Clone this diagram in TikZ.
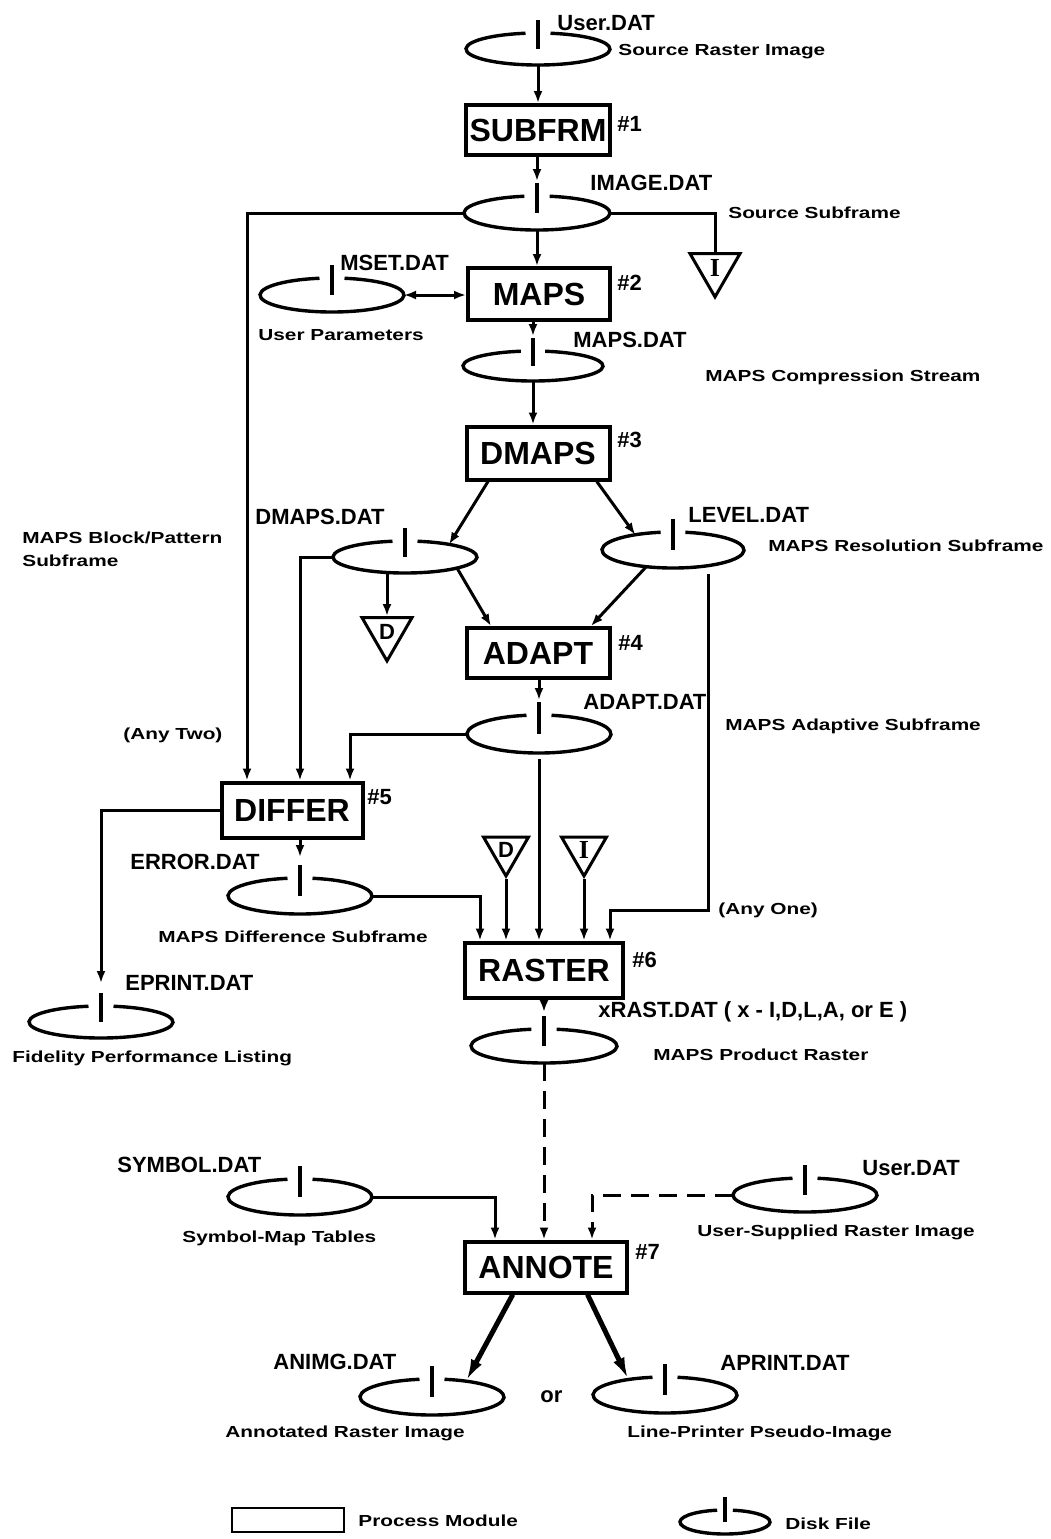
\documentclass[tikz,border=0pt]{standalone}
\usepackage{fontspec}
\setmainfont{Liberation Sans}
\newfontfamily\serifb{Liberation Serif}
\usepackage{graphicx}
\usetikzlibrary{shapes.geometric,arrows.meta,calc}

\newcommand\desc[1]{\scalebox{1.3}[1]{\fontsize{8}{10}\selectfont\bfseries #1}}
\newcommand\disk[5]{%
  \node[ellipse, draw=none, inner sep=0pt, outer sep=0pt, minimum width=#4pt, minimum height=#5pt] (#1) at (#2,#3) {};
  \draw[dskline] (#2,#3) ++(100:#4 and #5) arc[start angle=100, end angle=440, x radius=#4, y radius=#5];
  \draw[dskline, line width=2pt] (#2,#3+#5+13) -- (#2,#3);
  \coordinate (#1-t) at (#2,#3+#5+13);
}

\begin{document}
\begin{tikzpicture}[x=0.5pt,y=0.5pt,
  proc/.style={draw, line width=2pt, inner sep=0pt, font=\fontsize{16}{18}\selectfont\bfseries},
  dskline/.style={line width=1.7pt},
  dat/.style={anchor=west, inner sep=0pt, font=\fontsize{11}{13}\selectfont\bfseries},
  dsc/.style={anchor=west, inner sep=0pt},
  conn/.style={line width=1.5pt},
  arr/.style={line width=1.5pt, -{Latex[length=6pt,width=4.5pt]}},
  bigarr/.style={line width=2.5pt, -{Latex[length=11pt,width=6pt]}},
  dsh/.style={dash pattern=on 9pt off 5pt},
  tribig/.style={draw, line width=1.5pt, regular polygon, regular polygon sides=3, shape border rotate=180, inner sep=0pt, minimum size=28.9pt, font=\fontsize{11}{13}\selectfont\bfseries},
  trismall/.style={draw, line width=1.5pt, regular polygon, regular polygon sides=3, shape border rotate=180, inner sep=0pt, minimum size=26pt, font=\fontsize{11}{13}\selectfont\bfseries}
]
\fill[white] (0,0) rectangle (1051,-1539);
\useasboundingbox (0,0) rectangle (1051,-1539);

% x reference coordinates
\coordinate (kA) at (247,0);
\coordinate (kB) at (300,0);
\coordinate (kC) at (350,0);
\coordinate (kR1) at (480,0);
\coordinate (kR5) at (610,0);
\coordinate (kS) at (495,0);
\coordinate (kU) at (592,0);
\coordinate (lvc) at (708,-910);

% process modules
\node[proc, minimum width=72pt, minimum height=25pt] (subfrm) at (538,-130) {SUBFRM};
\node[proc, minimum width=71pt, minimum height=26pt] (maps) at (539,-294) {MAPS};
\node[proc, minimum width=71.5pt, minimum height=26.5pt] (dmaps) at (538,-453) {DMAPS};
\node[proc, minimum width=71.5pt, minimum height=25pt] (adapt) at (538,-653) {ADAPT};
\node[proc, minimum width=70.5pt, minimum height=27.5pt] (differ) at (292,-810) {DIFFER};
\node[proc, minimum width=79pt, minimum height=27.5pt] (raster) at (544,-970) {RASTER};
\node[proc, minimum width=81pt, minimum height=25.5pt] (annote) at (546,-1267) {ANNOTE};
\node[proc, line width=1.2pt, minimum width=56pt, minimum height=12pt] (legbox) at (288,-1520) {};

% module numbers
\node[dat] (n1) at (617,-124) {\#1};
\node[dat] (n2) at (617,-283) {\#2};
\node[dat] (n3) at (617,-440) {\#3};
\node[dat] (n4) at (618,-643) {\#4};
\node[dat] (n5) at (367,-797) {\#5};
\node[dat] (n6) at (632,-960) {\#6};
\node[dat] (n7) at (635,-1252) {\#7};

% disk files
\disk{userdat}{538}{-49}{72}{16}
\disk{imagedat}{537}{-213}{73}{17}
\disk{msetdat}{332}{-295}{72}{17}
\disk{mapsdat}{533}{-366}{70}{15}
\disk{dmapsdat}{405}{-557}{72}{16}
\disk{leveldat}{673}{-550}{71}{18}
\disk{adaptdat}{539}{-734}{72}{19}
\disk{errordat}{300}{-896}{72}{18}
\disk{eprintdat}{101}{-1022}{72}{16}
\disk{xrastdat}{544}{-1046}{73}{17}
\disk{symboldat}{300}{-1197}{72}{18}
\disk{userdat2}{805}{-1195}{72}{17}
\disk{animgdat}{432}{-1397}{72}{18}
\disk{aprintdat}{665}{-1395}{72}{18}
\disk{legdisk}{725}{-1522}{45}{12}

% triangles
\node[tribig] (triI1) at (715,-268) {\serifb\bfseries\fontsize{13}{15}\selectfont I};
\node[tribig] (triD1) at (387,-632) {D};
\node[trismall] (triD2) at (506,-850) {D};
\node[trismall] (triI2) at (584,-850) {\serifb\bfseries\fontsize{13}{15}\selectfont I};

% file names
\node[dat] (l1) at (557,-23) {User.DAT};
\node[dat] (l2) at (590,-183) {IMAGE.DAT};
\node[dat] (l3) at (340,-263) {MSET.DAT};
\node[dat] (l4) at (573,-340) {MAPS.DAT};
\node[dat] (l5) at (255,-517) {DMAPS.DAT};
\node[dat] (l6) at (688,-515) {LEVEL.DAT};
\node[dat] (l7) at (583,-702) {ADAPT.DAT};
\node[dat] (l8) at (130,-862) {ERROR.DAT};
\node[dat] (l9) at (125,-983) {EPRINT.DAT};
\node[dat] (l10) at (598,-1012) {xRAST.DAT ( x - I,D,L,A, or E )};
\node[dat] (l11) at (117,-1165) {SYMBOL.DAT};
\node[dat] (l12) at (862,-1168) {User.DAT};
\node[dat] (l13) at (273,-1362) {ANIMG.DAT};
\node[dat] (l14) at (720,-1363) {APRINT.DAT};
\node[dat] (lor) at (540,-1397) {or};

% descriptions
\node[dsc] (s1) at (618,-52) {\desc{Source Raster Image}};
\node[dsc] (s2) at (728,-213) {\desc{Source Subframe}};
\node[dsc] (s3) at (258,-335) {\desc{User Parameters}};
\node[dsc] (s4) at (705,-377) {\desc{MAPS Compression Stream}};
\node[dsc] (s5) at (22,-538) {\desc{MAPS Block/Pattern}};
\node[dsc] (s5b) at (22,-561) {\desc{Subframe}};
\node[dsc] (s6) at (768,-546) {\desc{MAPS Resolution Subframe}};
\node[dsc] (s7) at (725,-726) {\desc{MAPS Adaptive Subframe}};
\node[dsc] (s8) at (123,-735) {\desc{(Any Two)}};
\node[dsc] (s9) at (718,-910) {\desc{(Any One)}};
\node[dsc] (s10) at (158,-937) {\desc{MAPS Difference Subframe}};
\node[dsc] (s11) at (653,-1055) {\desc{MAPS Product Raster}};
\node[dsc] (s12) at (12,-1058) {\desc{Fidelity Performance Listing}};
\node[dsc] (s13) at (182,-1238) {\desc{Symbol-Map Tables}};
\node[dsc] (s14) at (697,-1232) {\desc{User-Supplied Raster Image}};
\node[dsc] (s15) at (225,-1433) {\desc{Annotated Raster Image}};
\node[dsc] (s16) at (627,-1433) {\desc{Line-Printer Pseudo-Image}};
\node[dsc] (s17) at (358,-1521) {\desc{Process Module}};
\node[dsc] (s18) at (785,-1524) {\desc{Disk File}};

% connectors
\draw[arr] (userdat.south) -- (subfrm.north -| userdat.south);
\draw[arr, shorten >=1pt] (subfrm.south -| imagedat-t) -- (imagedat-t);
\draw[arr] (imagedat.west) -| (differ.north -| kA);
\draw[conn] (imagedat.east) -| (triI1.north);
\draw[arr] (imagedat.south) -- (maps.north -| imagedat.south);
\draw[line width=1.5pt, {Latex[length=6pt,width=4.5pt]}-{Latex[length=6pt,width=4.5pt]}] (msetdat.east) -- (maps.west |- msetdat.east);
\draw[arr, shorten >=1pt] (maps.south -| mapsdat-t) -- (mapsdat-t);
\draw[arr] (mapsdat.south) -- (dmaps.north -| mapsdat.south);
\draw[arr] ($(dmaps.south west)!0.16!(dmaps.south east)$) -- (dmapsdat.16);
\draw[arr] ($(dmaps.south west)!0.9!(dmaps.south east)$) -- (leveldat.158);
\draw[arr] (triD1.north |- dmapsdat.south) -- (triD1.north);
\draw[arr] (dmapsdat.-12) -- ($(adapt.north west)!0.18!(adapt.north east)$);
\draw[arr] (leveldat.212) -- ($(adapt.north west)!0.86!(adapt.north east)$);
\draw[arr] (dmapsdat.west) -| (differ.north -| kB);
\draw[arr, shorten >=1pt] (adapt.south -| adaptdat-t) -- (adaptdat-t);
\draw[arr] (adaptdat.west) -| (differ.north -| kC);
\draw[arr] ([yshift=-3pt]leveldat.south -| lvc) -- (lvc) -| (raster.north -| kR5);
\draw[arr] ([yshift=-3pt]adaptdat.south) -- (raster.north -| adaptdat.south);
\draw[arr] (triD2.south) -- (raster.north -| triD2.south);
\draw[arr] (triI2.south) -- (raster.north -| triI2.south);
\draw[arr] (errordat.east) -| (raster.north -| kR1);
\draw[arr, shorten >=4pt] (differ.south -| errordat-t) -- (errordat-t);
\draw[arr, shorten >=5pt] (differ.west) -| (eprintdat-t);
\draw[arr, shorten >=2pt] (raster.south -| xrastdat-t) -- (xrastdat-t);
\draw[arr, dsh] (xrastdat.south) -- (annote.north -| xrastdat.south);
\draw[arr] (symboldat.east) -| (annote.north -| kS);
\draw[arr, dsh] (userdat2.west) -| (annote.north -| kU);
\draw[bigarr] ($(annote.south west)!0.3!(annote.south east)$) -- (animgdat.25);
\draw[bigarr] ($(annote.south west)!0.75!(annote.south east)$) -- (aprintdat.157);
\end{tikzpicture}
\end{document}
